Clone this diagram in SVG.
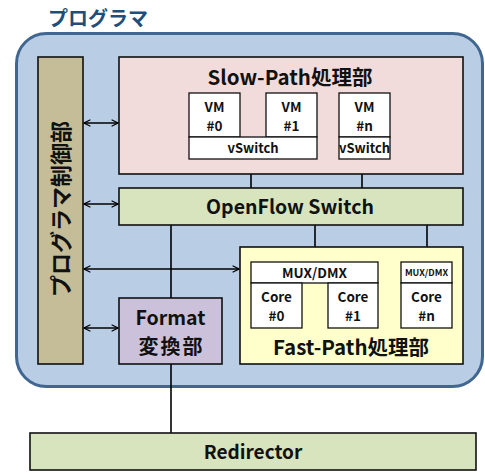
<svg xmlns="http://www.w3.org/2000/svg" width="485" height="473" viewBox="0 0 485 473">
  <defs>
    <marker id="arr" viewBox="0 0 10 10" refX="9" refY="5" markerWidth="8" markerHeight="8" orient="auto-start-reverse" markerUnits="userSpaceOnUse">
      <path d="M1,1 L9,5 L1,9" fill="none" stroke="#000" stroke-width="1.4"/>
    </marker>
    <style>
      text { font-family: "Noto Sans CJK JP", "Noto Sans", sans-serif; font-weight: bold; fill: #111; text-anchor: middle; }
      .box { stroke: #111; stroke-width: 1.6; }
      .white { fill: #fff; stroke: #111; stroke-width: 1.3; }
      .wire { stroke: #000; stroke-width: 1.6; fill: none; }
      .dbl { stroke: #000; stroke-width: 1.4; fill: none; marker-start: url(#arr); marker-end: url(#arr); }
      .small { font-size: 13.5px; }
    </style>
  </defs>
  <rect width="485" height="473" fill="#fff"/>

  <!-- program frame -->
  <g id="program">
    <text x="48" y="26" style="text-anchor:start;fill:#1F4E79;font-size:20px">プログラマ</text>
    <rect x="16.5" y="33.5" width="466" height="353" rx="30" fill="#B9CDE5" stroke="#41668F" stroke-width="3"/>
  </g>

  <!-- connectors -->
  <g id="connectors">
    <line class="wire" x1="251" y1="159" x2="251" y2="188"/>
    <line class="wire" x1="362" y1="159" x2="362" y2="188"/>
    <line class="wire" x1="315" y1="225" x2="315" y2="262"/>
    <line class="wire" x1="427" y1="225" x2="427" y2="262"/>
    <line class="wire" x1="171" y1="225" x2="171" y2="298"/>
    <line class="wire" x1="171" y1="364" x2="171" y2="433"/>
    <line class="dbl" x1="84" y1="123" x2="118" y2="123"/>
    <line class="dbl" x1="84" y1="204" x2="118" y2="204"/>
    <line class="dbl" x1="84" y1="269" x2="239" y2="269"/>
    <line class="dbl" x1="84" y1="328" x2="118" y2="328"/>
  </g>

  <g id="control">
    <rect class="box" x="38" y="57" width="45" height="307" fill="#C4BD97"/>
    <text transform="translate(68.5,209) rotate(-90)" style="font-size:22px">プログラマ制御部</text>
  </g>

  <g id="slow-path">
    <rect class="box" x="119" y="57" width="344" height="117" fill="#F2DCDB"/>
    <text x="290" y="84.5" style="font-size:20.5px">Slow-Path処理部</text>
  </g>

  <g id="vm0">
    <rect class="white" x="189" y="93" width="51" height="44"/>
    <text class="small" x="214.5" y="112">VM</text>
    <text class="small" x="214.5" y="131">#0</text>
  </g>
  <g id="vm1">
    <rect class="white" x="266" y="93" width="51" height="44"/>
    <text class="small" x="291.5" y="112">VM</text>
    <text class="small" x="291.5" y="131">#1</text>
  </g>
  <g id="vswitch-a">
    <rect class="white" x="189" y="137" width="128" height="22"/>
    <text x="253" y="153" style="font-size:13px">vSwitch</text>
  </g>
  <g id="vmn">
    <rect class="white" x="339" y="93" width="51" height="44"/>
    <text class="small" x="364.5" y="112">VM</text>
    <text class="small" x="364.5" y="131">#n</text>
  </g>
  <g id="vswitch-n">
    <rect class="white" x="339" y="137" width="51" height="22"/>
    <text x="364.5" y="153" style="font-size:13px">vSwitch</text>
  </g>

  <g id="openflow">
    <rect class="box" x="119" y="188" width="344" height="37" fill="#D7E4BD"/>
    <text x="290" y="214" style="font-size:19.5px">OpenFlow Switch</text>
  </g>

  <g id="fast-path">
    <rect class="box" x="240" y="247" width="223" height="117" fill="#FFFFCC"/>
    <text x="351" y="355" style="font-size:20.5px">Fast-Path処理部</text>
  </g>
  <g id="mux-a">
    <rect class="white" x="251" y="262" width="127" height="21"/>
    <text x="314.5" y="277.5" style="font-size:13.5px">MUX/DMX</text>
  </g>
  <g id="core0">
    <rect class="white" x="251" y="283" width="51" height="45"/>
    <text class="small" x="276.5" y="302">Core</text>
    <text class="small" x="276.5" y="321">#0</text>
  </g>
  <g id="core1">
    <rect class="white" x="328" y="283" width="50" height="45"/>
    <text class="small" x="353" y="302">Core</text>
    <text class="small" x="353" y="321">#1</text>
  </g>
  <g id="mux-n">
    <rect class="white" x="401" y="262" width="51" height="21"/>
    <text x="426.5" y="276" style="font-size:9px">MUX/DMX</text>
  </g>
  <g id="coren">
    <rect class="white" x="401" y="283" width="51" height="45"/>
    <text class="small" x="426.5" y="302">Core</text>
    <text class="small" x="426.5" y="321">#n</text>
  </g>

  <g id="format">
    <rect class="box" x="119" y="298" width="103" height="66" fill="#CCC1DA"/>
    <text x="170.5" y="325" style="font-size:19.5px">Format</text>
    <text x="171.5" y="354" style="font-size:20px;letter-spacing:2px">変換部</text>
  </g>

  <g id="redirector">
    <rect class="box" x="30" y="433" width="446" height="37" fill="#D7E4BD"/>
    <text x="253" y="459" style="font-size:19px">Redirector</text>
  </g>
</svg>
